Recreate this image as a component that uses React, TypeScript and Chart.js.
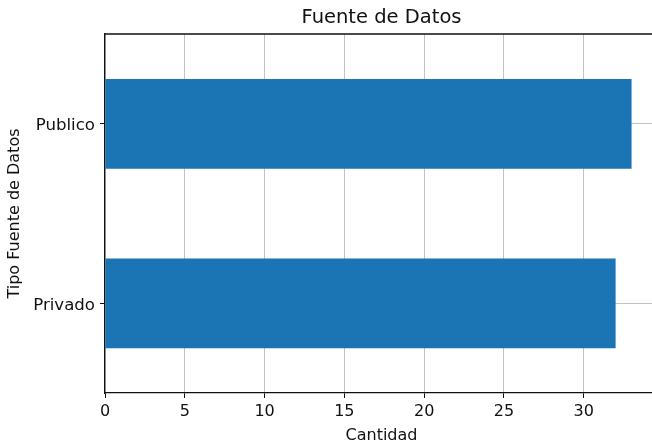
import React, { useEffect, useRef } from "react";
import { Chart, registerables } from "chart.js";

Chart.register(...registerables);

const categories: string[] = ["Publico", "Privado"];
const cantidad: number[] = [33, 32];
const xTickStep = 5;
const xMax = 34.28;
const titleText = "Fuente de Datos";
const xTitleText = "Cantidad";
const yTitleText = "Tipo Fuente de Datos";

const FONT = "'DejaVu Sans', sans-serif";

export default function App() {
  const canvasRef = useRef<HTMLCanvasElement | null>(null);

  useEffect(() => {
    const canvas = canvasRef.current;
    if (!canvas) return;

    const textPlugin = {
      id: "mplText",
      afterDraw(chart: any) {
        const { ctx, chartArea } = chart;
        ctx.save();
        // top spine
        ctx.strokeStyle = "#111";
        ctx.lineWidth = 1.3;
        ctx.beginPath();
        ctx.moveTo(chartArea.left, chartArea.top);
        ctx.lineTo(chartArea.right, chartArea.top);
        ctx.stroke();

        ctx.fillStyle = "#111";
        ctx.textAlign = "center";
        ctx.textBaseline = "middle";
        const axesCenterX = (chartArea.left + 658) / 2;
        ctx.font = `19.5px ${FONT}`;
        ctx.fillText(titleText, axesCenterX, 18);

        ctx.font = `16px ${FONT}`;
        ctx.fillText(xTitleText, axesCenterX, 436);

        ctx.translate(15, (chartArea.top + chartArea.bottom) / 2);
        ctx.rotate(-Math.PI / 2);
        ctx.fillText(yTitleText, 0, 0);
        ctx.restore();
      },
    };

    const chart = new Chart(canvas, {
      type: "bar",
      data: {
        labels: categories,
        datasets: [
          {
            data: cantidad,
            backgroundColor: "#1b75b5",
            borderWidth: 0,
            barPercentage: 0.5,
            categoryPercentage: 1,
          },
        ],
      },
      options: {
        indexAxis: "y",
        animation: false,
        responsive: false,
        devicePixelRatio: 1,
        layout: { padding: { top: 34, left: 0, right: 0, bottom: 0 } },
        plugins: {
          legend: { display: false },
          title: { display: false },
          tooltip: { enabled: false },
        },
        scales: {
          x: {
            type: "linear",
            min: 0,
            max: xMax,
            z: 1,
            ticks: {
              stepSize: xTickStep,
              includeBounds: false,
              color: "#111",
              font: { family: FONT, size: 16 },
              padding: 4,
              maxRotation: 0,
            },
            afterBuildTicks: (scale: any) => {
              scale.ticks = scale.ticks.filter((t: any) => t.value % xTickStep === 0);
            },
            afterFit: (scale: any) => {
              scale.height = 54;
            },
            grid: {
              color: "#c2c2c2",
              lineWidth: 1,
              tickColor: "#111",
              tickLength: 5,
              drawTicks: true,
            },
            border: { display: true, color: "#111", width: 1.3 },
          },
          y: {
            type: "category",
            z: 1,
            offset: true,
            ticks: {
              color: "#111",
              font: { family: FONT, size: 16.6 },
              padding: 5,
              labelOffset: 2,
            },
            afterFit: (scale: any) => {
              scale.width = 105;
            },
            grid: {
              offset: false,
              color: "#c2c2c2",
              lineWidth: 1,
              tickColor: "#111",
              tickLength: 5,
              drawTicks: true,
            },
            border: { display: true, color: "#111", width: 1.3 },
          },
        },
      },
      plugins: [textPlugin],
    } as any);

    return () => chart.destroy();
  }, []);

  return (
    <div style={{ position: "fixed", left: 0, top: 0, width: 652, height: 447, background: "#fff" }}>
      <canvas ref={canvasRef} width={652} height={447} style={{ width: 652, height: 447, display: "block" }} />
    </div>
  );
}
